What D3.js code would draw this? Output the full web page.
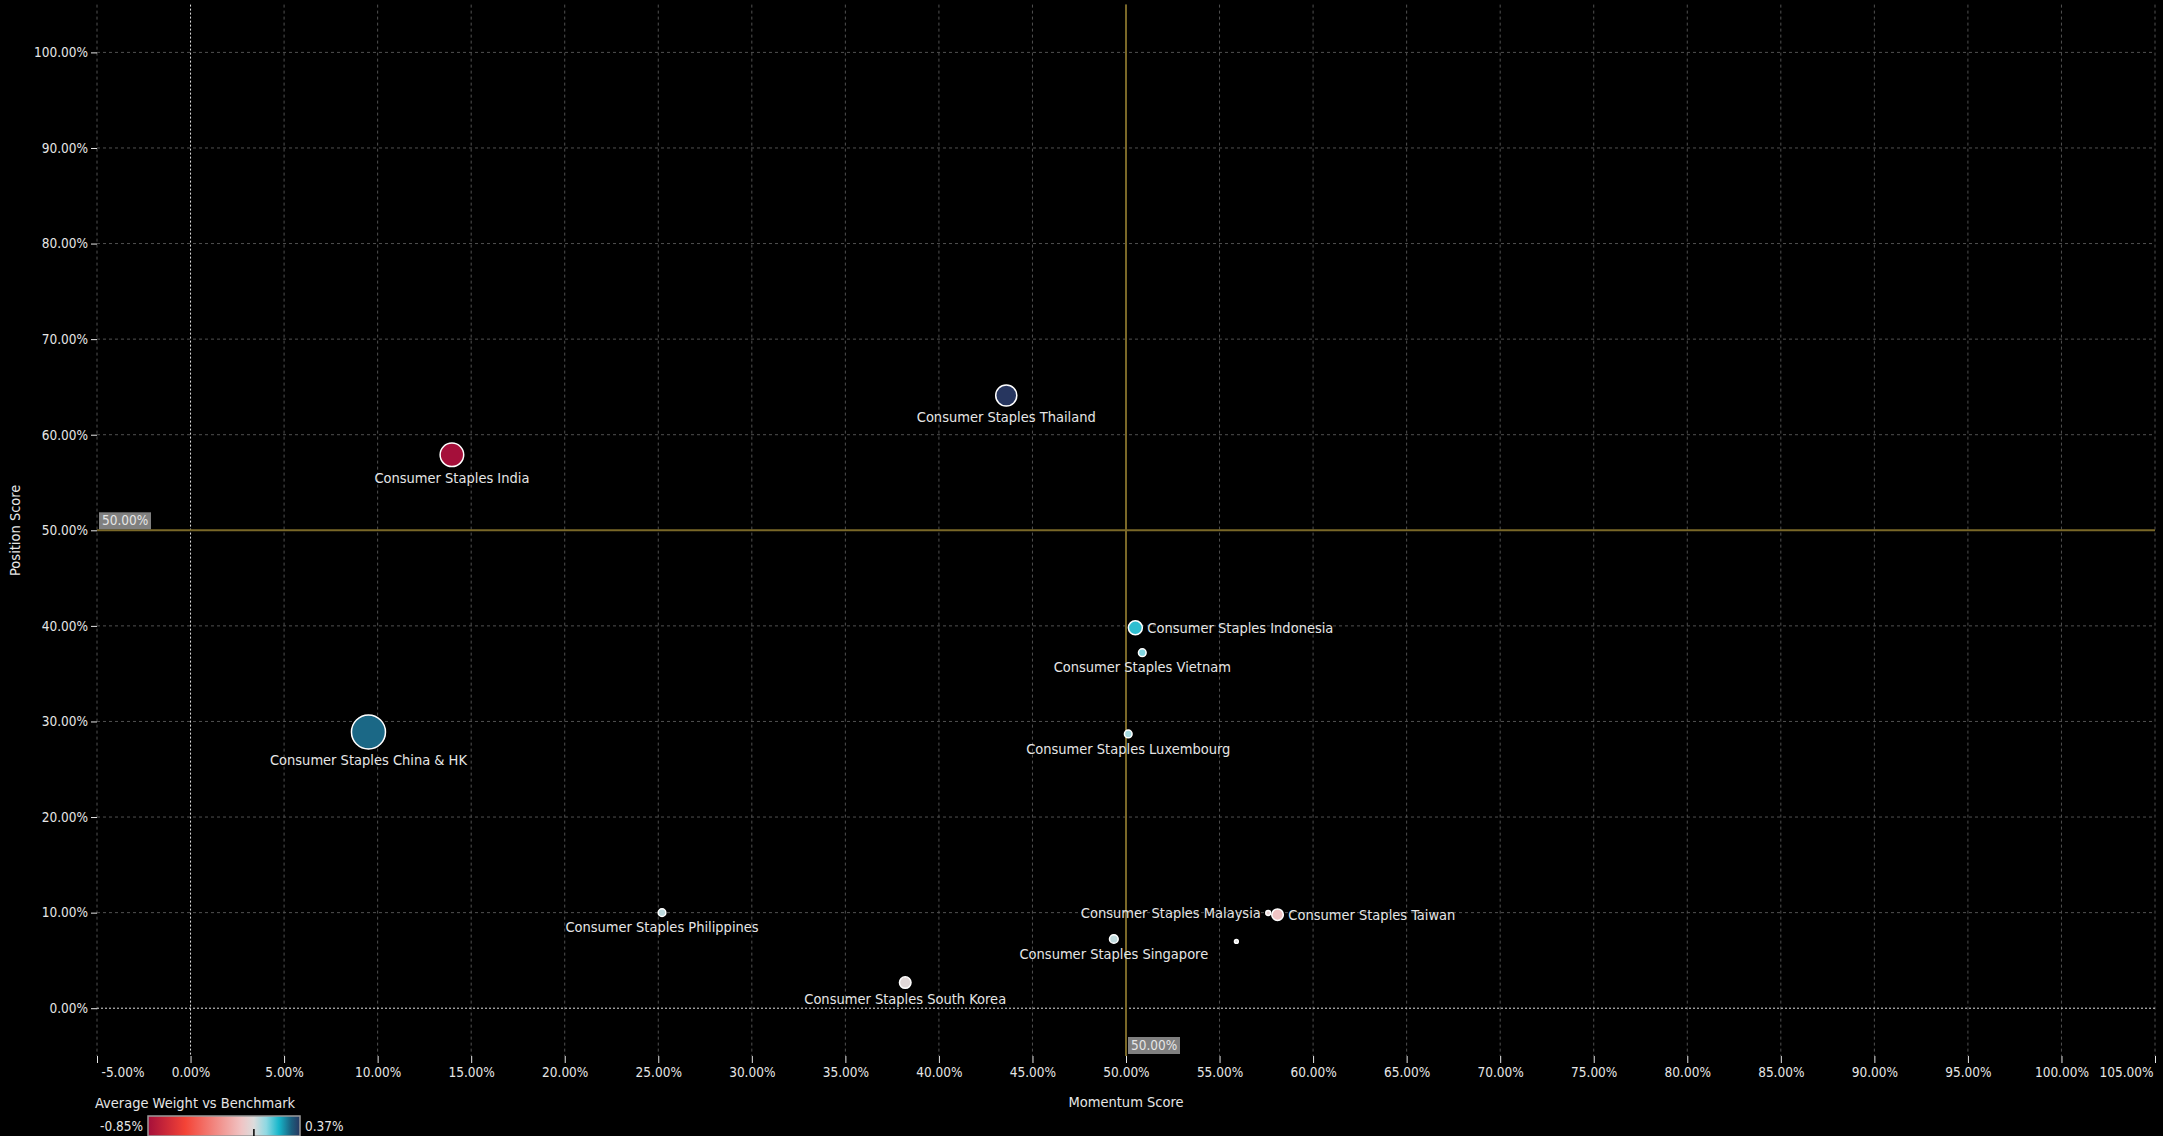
<!DOCTYPE html>
<html>
<head>
<meta charset="utf-8">
<script src="https://cdn.jsdelivr.net/npm/d3@7"></script>
<style>
    body { margin: 0; background: #000; }
    svg text { font-family: "DejaVu Sans Condensed", "DejaVu Sans", sans-serif; font-stretch: condensed; fill: #e6e6e6; }
</style>
</head>
<body>
<div id="chart"></div>
<script>
// data
var names = ["Consumer Staples Thailand", "Consumer Staples India", "Consumer Staples China & HK",
    "Consumer Staples Indonesia", "Consumer Staples Vietnam", "Consumer Staples Luxembourg",
    "Consumer Staples Malaysia", "Consumer Staples Taiwan", "Consumer Staples Singapore",
    "", "Consumer Staples Philippines", "Consumer Staples South Korea"];
var momentum = [43.6, 13.97, 9.51, 50.5, 50.87, 50.12, 57.6, 58.1, 49.35, 55.9, 25.2, 38.2];
var position = [64.1, 57.9, 28.9, 39.8, 37.2, 28.7, 9.96, 9.78, 7.24, 6.99, 10.0, 2.68];
var weightVsBench = [0.37, -0.85, 0.29, 0.18, 0.11, 0.07, -0.05, -0.1, 0.035, 0.0, 0.04, -0.02];
var bubbleSize = [1.23, 1.54, 3.2, 0.54, 0.163, 0.163, 0.064, 0.37, 0.21, 0.04, 0.163, 0.37];
var labelSide = ["below", "below", "below", "right", "below", "below", "left", "right", "below", "none", "below", "below"];

var xTicks = [-5, 0, 5, 10, 15, 20, 25, 30, 35, 40, 45, 50, 55, 60, 65, 70, 75, 80, 85, 90, 95, 100, 105];
var yTicks = [0, 10, 20, 30, 40, 50, 60, 70, 80, 90, 100];

var colorStops = [-0.85, -0.55, -0.1, 0, 0.1, 0.2, 0.3, 0.37];
var colorValues = ["#a50f3a", "#f44336", "#f0c4c4", "#dcdcdc", "#8ed8e2", "#17b7cb", "#1b5f7e", "#27365f"];

chart();

function chart() {
    var width = 2163
    var height = 1136

    var svg = d3.select("#chart")
        .append("svg")
        .attr("width", width)
        .attr("height", height);

    var x = d3.scaleLinear().domain([-5, 105]).range([97, 2155]);
    var y = d3.scaleLinear().domain([-5, 105]).range([1056, 4.6]);
    var r = d3.scaleSqrt().domain([0, 3.2]).range([0, 17]);
    var color = d3.scaleLinear().domain(colorStops).range(colorValues);
    var fmt = function(d) { return d.toFixed(2) + "%"; };

    var points = names.map(function(n, i) {
        return { name: n, mx: momentum[i], py: position[i], w: weightVsBench[i], s: bubbleSize[i], side: labelSide[i] };
    });

    //grid
    var grid = svg.append("g");
    grid.selectAll(".vg").data(xTicks.filter(function(d) { return d != 0; }))
        .enter().append("line")
        .attr("x1", function(d) { return x(d); }).attr("x2", function(d) { return x(d); })
        .attr("y1", y.range()[1]).attr("y2", y.range()[0])
        .attr("stroke", "#505050").attr("stroke-dasharray", "3,3");
    grid.selectAll(".hg").data(yTicks.filter(function(d) { return d != 0 && d != 50; }))
        .enter().append("line")
        .attr("x1", x.range()[0]).attr("x2", x.range()[1])
        .attr("y1", function(d) { return y(d); }).attr("y2", function(d) { return y(d); })
        .attr("stroke", "#505050").attr("stroke-dasharray", "3,3");

    //zero lines
    grid.append("line")
        .attr("x1", x(0)).attr("x2", x(0)).attr("y1", y.range()[1]).attr("y2", y.range()[0])
        .attr("stroke", "#e0e0e0").attr("stroke-dasharray", "2,2");
    grid.append("line")
        .attr("x1", x.range()[0]).attr("x2", x.range()[1]).attr("y1", y(0)).attr("y2", y(0))
        .attr("stroke", "#e0e0e0").attr("stroke-dasharray", "2,2");

    //50% lines
    grid.append("line")
        .attr("x1", x.range()[0]).attr("x2", x.range()[1]).attr("y1", y(50)).attr("y2", y(50))
        .attr("stroke", "#7a6828").attr("stroke-width", 2);
    grid.append("line")
        .attr("x1", x(50)).attr("x2", x(50)).attr("y1", y.range()[1]).attr("y2", y.range()[0])
        .attr("stroke", "#7a6828").attr("stroke-width", 2);

    //axes
    var xAxis = svg.append("g")
        .attr("transform", "translate(0," + y.range()[0] + ")")
        .call(d3.axisBottom(x).tickValues(xTicks).tickFormat(fmt).tickSize(7).tickPadding(4));
    var yAxis = svg.append("g")
        .attr("transform", "translate(" + x.range()[0] + ",0)")
        .call(d3.axisLeft(y).tickValues(yTicks).tickFormat(fmt).tickSize(6).tickPadding(3));
    [xAxis, yAxis].forEach(function(a) {
        a.select(".domain").remove();
        a.selectAll(".tick line").attr("stroke", "#e6e6e6");
        a.selectAll(".tick text").style("font-size", "13.5px").attr("fill", "#e6e6e6");
    });
    // keep the end labels inside the plot width
    xAxis.selectAll(".tick text")
        .attr("text-anchor", function(d, i) { return i == 0 ? "start" : (i == xTicks.length - 1 ? "end" : "middle"); })
        .attr("dx", function(d, i) { return i == 0 ? 4 : (i == xTicks.length - 1 ? -2 : 0); });

    //50% tags
    var tagH = svg.append("g").attr("transform", "translate(" + (x.range()[0] + 2) + "," + (y(50) - 18) + ")");
    tagH.append("rect").attr("width", 52).attr("height", 17).attr("fill", "#808080");
    tagH.append("text").attr("x", 3).attr("y", 13).style("font-size", "13.5px").text(fmt(50));
    var tagV = svg.append("g").attr("transform", "translate(" + (x(50) + 2) + "," + (y.range()[0] - 19) + ")");
    tagV.append("rect").attr("width", 52).attr("height", 17).attr("fill", "#808080");
    tagV.append("text").attr("x", 3).attr("y", 13).style("font-size", "13.5px").text(fmt(50));

    //axis titles
    svg.append("text")
        .attr("x", x(50)).attr("y", 1107)
        .attr("text-anchor", "middle").style("font-size", "14.5px")
        .text("Momentum Score");
    svg.append("text")
        .attr("transform", "translate(20," + y(50) + ") rotate(-90)")
        .attr("text-anchor", "middle").style("font-size", "14.5px")
        .text("Position Score");

    //bubbles
    var node = svg.append("g")
        .selectAll("circle")
        .data(points)
        .enter()
        .append("circle")
        .attr("cx", function(d) { return x(d.mx); })
        .attr("cy", function(d) { return y(d.py); })
        .attr("r", function(d) { return r(d.s); })
        .attr("fill", function(d) { return color(d.w); })
        .attr("stroke", "#ffffff")
        .style("stroke-width", 1.5);

    //labels
    svg.append("g")
        .selectAll("text")
        .data(points.filter(function(d) { return d.side != "none"; }))
        .enter()
        .append("text")
        .style("font-size", "14.5px")
        .attr("dominant-baseline", "central")
        .attr("text-anchor", function(d) {
            if (d.side == "right") return "start";
            if (d.side == "left") return "end";
            return "middle";
        })
        .attr("x", function(d) {
            if (d.side == "right") return x(d.mx) + r(d.s) + 5;
            if (d.side == "left") return x(d.mx) - r(d.s) - 5;
            return x(d.mx);
        })
        .attr("y", function(d) {
            if (d.side == "below") return y(d.py) + r(d.s) + 11;
            return y(d.py);
        })
        .text(function(d) { return d.name; });

    //legend
    var grad = svg.append("defs").append("linearGradient").attr("id", "wgrad");
    grad.selectAll("stop").data(colorStops).enter().append("stop")
        .attr("offset", function(d) { return ((d - colorStops[0]) / (colorStops[colorStops.length - 1] - colorStops[0]) * 100) + "%"; })
        .attr("stop-color", function(d) { return color(d); });

    var legX = 148, legW = 152, legY = 1116;
    svg.append("text").attr("x", 95).attr("y", 1108).style("font-size", "14.5px").text("Average Weight vs Benchmark");
    svg.append("rect").attr("x", legX).attr("y", legY).attr("width", legW).attr("height", 20)
        .attr("fill", "url(#wgrad)").attr("stroke", "#9a9a9a").attr("stroke-width", 1.5);
    var lx = d3.scaleLinear().domain([colorStops[0], colorStops[colorStops.length - 1]]).range([legX, legX + legW]);
    svg.append("line").attr("x1", lx(0)).attr("x2", lx(0)).attr("y1", legY + 13).attr("y2", legY + 20)
        .attr("stroke", "#000").attr("stroke-width", 1.5);
    svg.append("text").attr("x", legX - 5).attr("y", legY + 10).attr("text-anchor", "end")
        .attr("dominant-baseline", "central").style("font-size", "13.5px").text(fmt(colorStops[0]));
    svg.append("text").attr("x", legX + legW + 5).attr("y", legY + 10)
        .attr("dominant-baseline", "central").style("font-size", "13.5px").text(fmt(colorStops[colorStops.length - 1]));
}
</script>
</body>
</html>
